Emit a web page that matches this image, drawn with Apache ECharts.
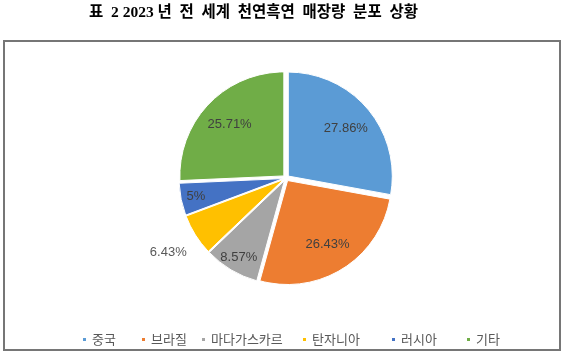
<!DOCTYPE html>
<html><head><meta charset="utf-8">
<style>html,body{margin:0;padding:0;background:#fff}#c{width:565px;height:357px}</style>
<script src="https://cdn.jsdelivr.net/npm/echarts@6/dist/echarts.min.js"></script>
</head><body><div id="c"></div>
<script>
var categories = ['중국', '브라질', '마다가스카르', '탄자니아', '러시아', '기타'];
var values = [27.86, 26.43, 8.57, 6.43, 5, 25.71];
var labels = ['27.86%', '26.43%', '8.57%', '6.43%', '5%', '25.71%'];
var colors = ['#5B9BD5', '#ED7D31', '#A5A5A5', '#FFC000', '#4472C4', '#70AD47'];
// label ring group per slice: 0 = mid ring, 1 = outer ring, 2 = outside
var labelRing = [0, 0, 1, 2, 1, 0];
var legendLeft = [76, 135, 195, 296, 385, 460];

var chart = echarts.init(document.getElementById('c'));
var center = [286, 178];
var R = 104;
var FONT = '"Liberation Sans", "Noto Sans CJK KR", sans-serif';

function mainData() {
  return categories.map(function (n, i) {
    return { name: n, value: values[i], selected: true, itemStyle: { color: colors[i] } };
  });
}
function labelData(ring) {
  return categories.map(function (n, i) {
    return {
      name: n, value: values[i],
      label: { show: labelRing[i] === ring, formatter: labels[i] }
    };
  });
}
function labelSeries(ring, r0, r1, color) {
  return {
    type: 'pie', center: center, radius: [r0, r1], startAngle: 90, clockwise: true,
    silent: true, animation: false, legendHoverLink: false, z: 10,
    itemStyle: { color: 'rgba(0,0,0,0)', borderWidth: 0 },
    label: { position: 'inside', fontSize: 13, fontFamily: FONT, color: color },
    labelLine: { show: false },
    emphasis: { disabled: true },
    data: labelData(ring)
  };
}

var legends = categories.map(function (n, i) {
  return {
    left: legendLeft[i], top: 328, orient: 'horizontal',
    icon: 'rect', itemWidth: 5, itemHeight: 5,
    selectedMode: false,
    textStyle: { fontSize: 13, color: '#595959', fontFamily: '"Noto Sans CJK KR", sans-serif' },
    data: [{ name: n, itemStyle: { color: colors[i] } }]
  };
});

chart.setOption({
  animation: false,
  backgroundColor: '#fff',
  title: {
    text: '표  2 2023 년  전  세계  천연흑연  매장량  분포  상황',
    left: 84, top: 0,
    textStyle: { fontSize: 15.5, fontWeight: 'bold', color: '#000', fontFamily: '"Liberation Serif", "Noto Sans CJK KR", serif' }
  },
  graphic: [{
    type: 'rect', silent: true, z: -1,
    shape: { x: 4, y: 41, width: 556, height: 309 },
    style: { fill: 'none', stroke: '#767676', lineWidth: 2 }
  }],
  legend: legends,
  series: [
    {
      type: 'pie', center: center, radius: [0, R], startAngle: 90, clockwise: true,
      selectedMode: 'multiple', selectedOffset: 3,
      itemStyle: { borderColor: '#fff', borderWidth: 1 },
      label: { show: false }, labelLine: { show: false },
      emphasis: { scale: false },
      data: mainData()
    },
    labelSeries(0, 46, R, '#404040'),
    labelSeries(1, 74, R, '#404040'),
    labelSeries(2, R, 168, '#595959')
  ]
});
</script></body></html>
